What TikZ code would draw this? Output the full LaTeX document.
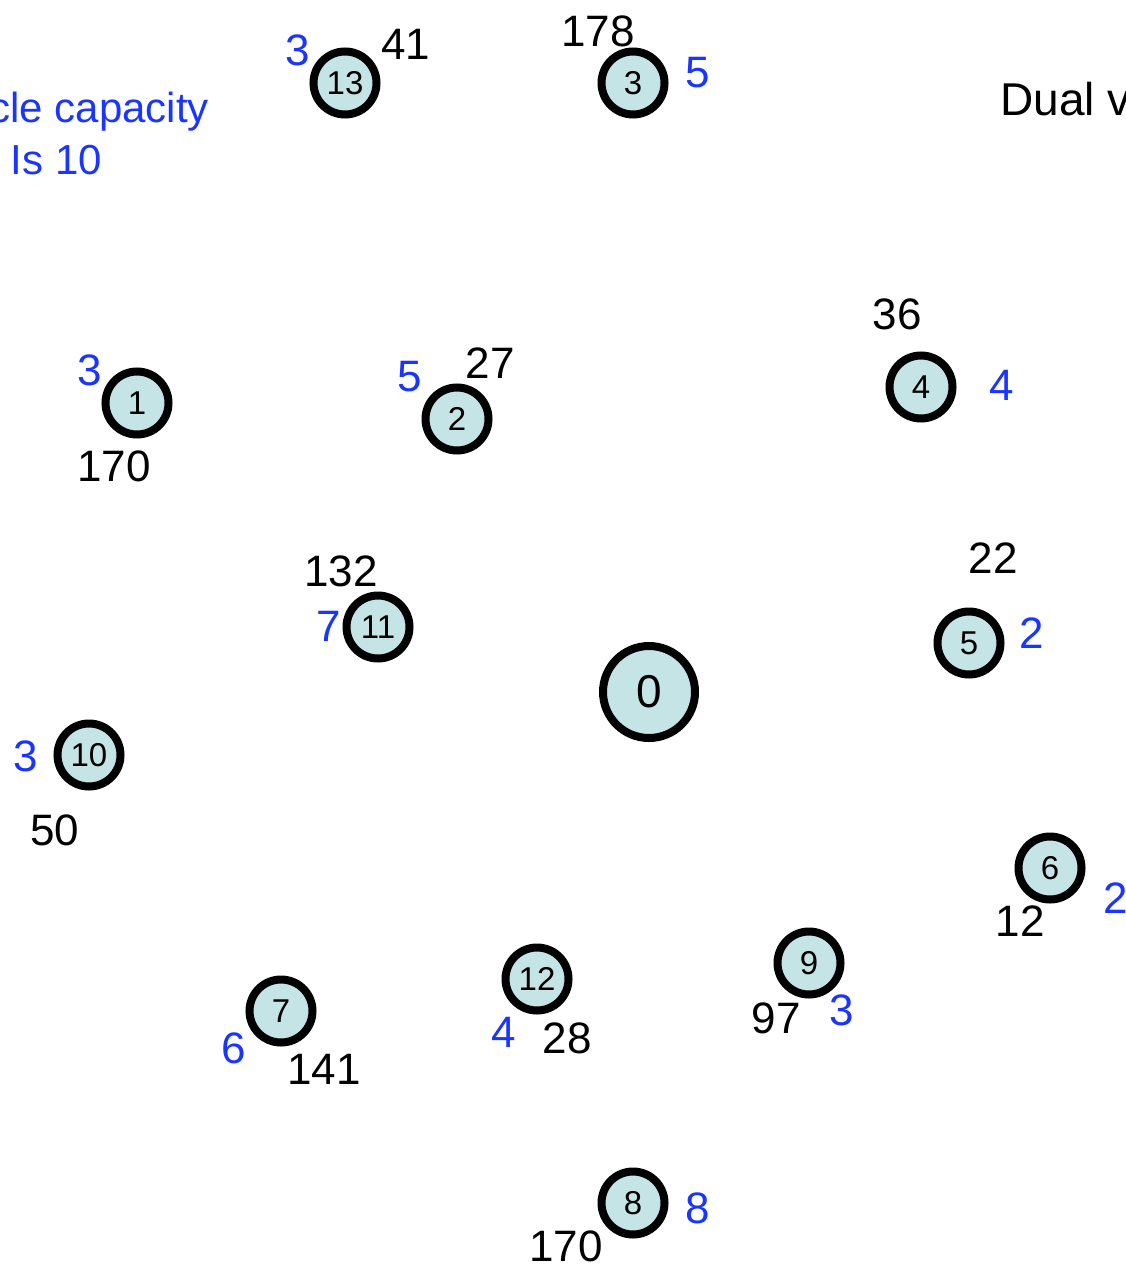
\documentclass[tikz,border=0pt]{standalone}
\usepackage{fontspec}
\setmainfont{Liberation Sans}
\usepackage{xcolor}
\usetikzlibrary{positioning}
\definecolor{custFill}{HTML}{C5E4E6}
\definecolor{dualBlue}{HTML}{1A35FF}

\begin{document}
\begin{tikzpicture}[x=1pt,y=-1pt,
    cust/.style={circle,draw=black,line width=8pt,fill=custFill,
                 minimum size=63pt,inner sep=0pt,
                 font=\fontsize{33}{36}\selectfont},
    depot/.style={cust,minimum size=92pt,
                  font=\fontsize{46}{50}\selectfont},
    demand/.style={inner sep=0pt,font=\fontsize{44}{50}\selectfont},
    dual/.style={demand,text=dualBlue},
    note/.style={inner sep=0pt,font=\fontsize{42}{48}\selectfont}]
    \useasboundingbox (0,0) rectangle (1126,1268);
    \clip (0,0) rectangle (1126,1268);
    % depot and customers
    \node[depot] (n0) at (649,692) {0};
    \node[cust] (n1)  at (137,403)  {1};
    \node[cust] (n2)  at (457,419)  {2};
    \node[cust] (n3)  at (633,83)   {3};
    \node[cust] (n4)  at (921,387)  {4};
    \node[cust] (n5)  at (969,643)  {5};
    \node[cust] (n6)  at (1050,868) {6};
    \node[cust] (n7)  at (281,1011) {7};
    \node[cust] (n8)  at (633,1203) {8};
    \node[cust] (n9)  at (809,963)  {9};
    \node[cust] (n10) at (89,755)   {10};
    \node[cust] (n11) at (378,627)  {11};
    \node[cust] (n12) at (537,979)  {12};
    \node[cust] (n13) at (345,83)   {13};
    % demands (blue) and dual values (black)
    \node[dual]   (q1)  at (90,370)   {3};
    \node[demand] (d1)  at (114,466)  {170};
    \node[dual]   (q2)  at (410,377)  {5};
    \node[demand] (d2)  at (490,363)  {27};
    \node[dual]   (q3)  at (698,73)   {5};
    \node[demand] (d3)  at (598,31)   {178};
    \node[dual]   (q4)  at (1002,385) {4};
    \node[demand] (d4)  at (897,314)  {36};
    \node[dual]   (q5)  at (1032,633) {2};
    \node[demand] (d5)  at (993,558)  {22};
    \node[dual]   (q6)  at (1116,898) {2};
    \node[demand] (d6)  at (1020,921) {12};
    \node[dual]   (q7)  at (234,1048) {6};
    \node[demand] (d7)  at (324,1069) {141};
    \node[dual]   (q8)  at (698,1208) {8};
    \node[demand] (d8)  at (566,1246) {170};
    \node[dual]   (q9)  at (842,1010) {3};
    \node[demand] (d9)  at (776,1018) {97};
    \node[dual]   (q10) at (26,756)   {3};
    \node[demand] (d10) at (55,830)   {50};
    \node[dual]   (q11) at (329,626)  {7};
    \node[demand] (d11) at (341,571)  {132};
    \node[dual]   (q12) at (504,1032) {4};
    \node[demand] (d12) at (567,1038) {28};
    \node[dual]   (q13) at (298,50)   {3};
    \node[demand] (d13) at (406,44)   {41};
    % titles (cut by the frame, as in the figure)
    \node[note,text=dualBlue,anchor=base east] (cap1) at (209,123) {Vehicle capacity};
    \node[note,text=dualBlue,anchor=base east] (cap2) at (102,175) {Is 10};
    \node[note,font=\fontsize{46}{52}\selectfont,anchor=base west]
        (dualtxt) at (1000,116) {Dual values};
\end{tikzpicture}
\end{document}
